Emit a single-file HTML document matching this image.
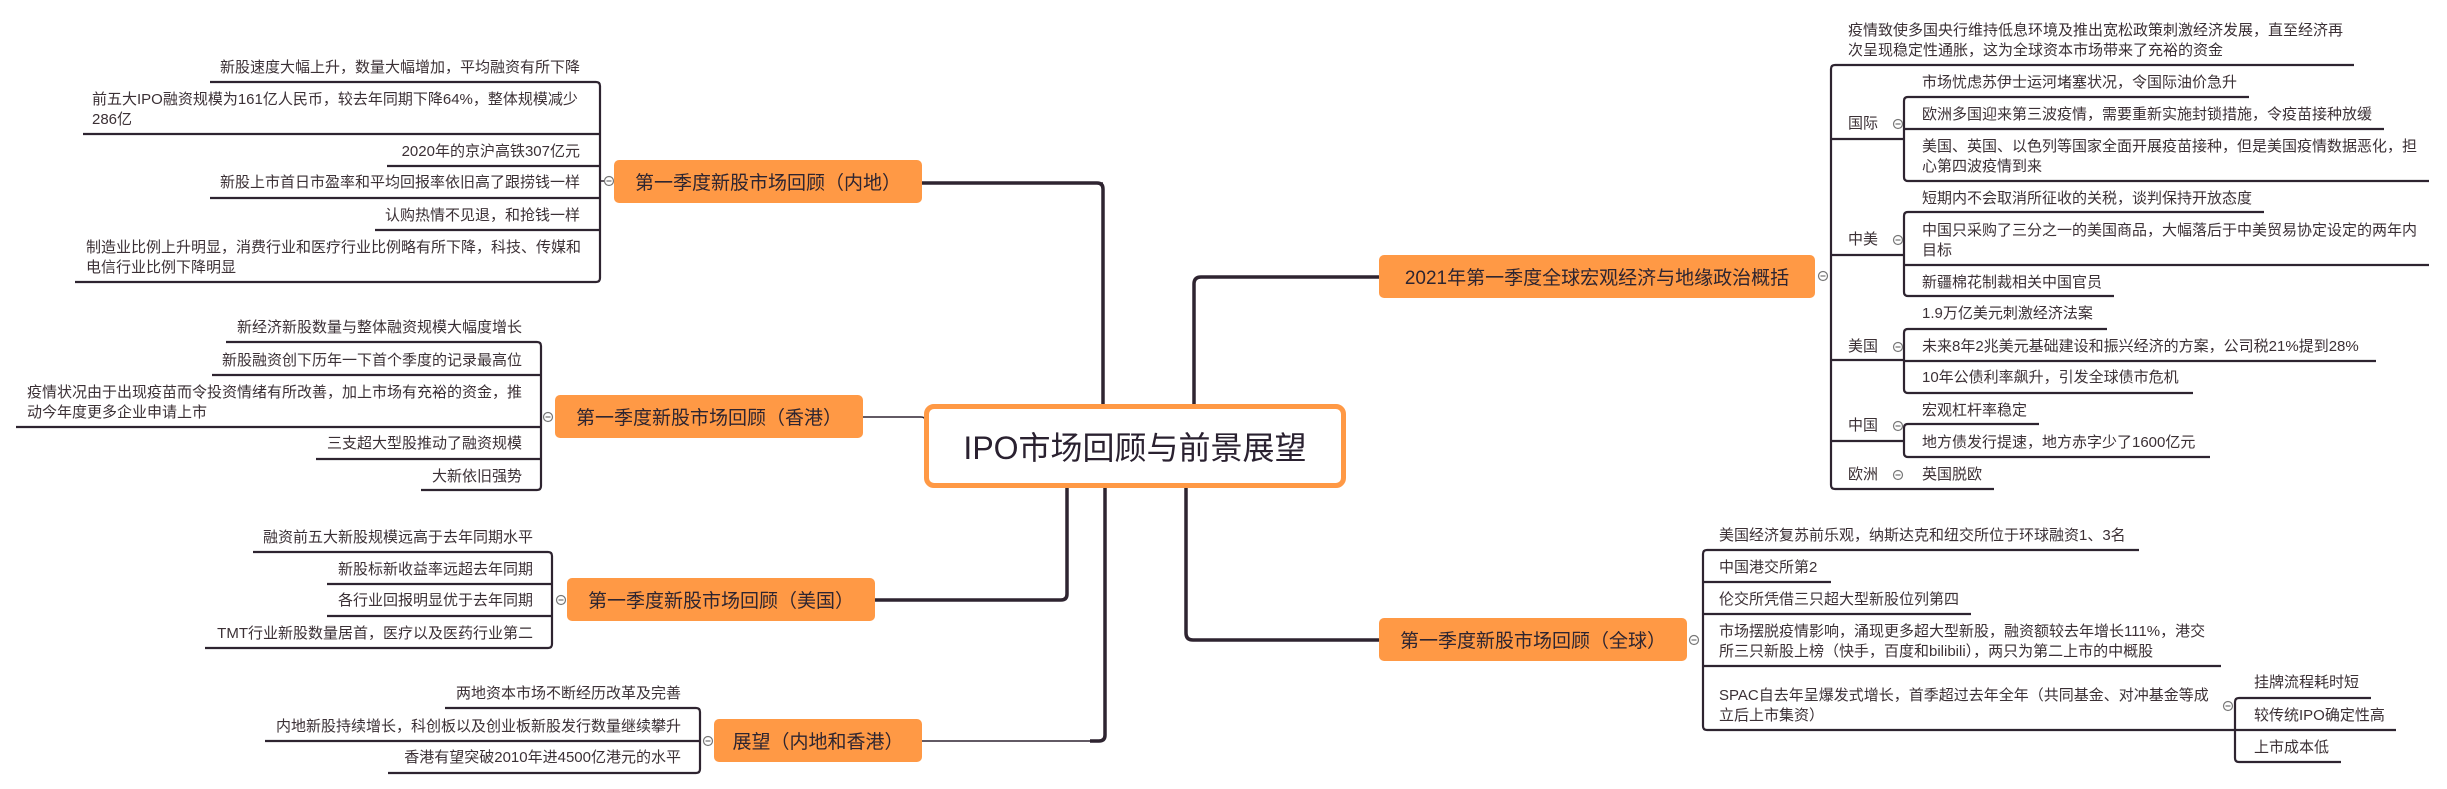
<!DOCTYPE html>
<html><head><meta charset="utf-8"><style>
html,body{margin:0;padding:0;background:#fff;}
body{width:2447px;height:789px;position:relative;overflow:hidden;font-family:"Liberation Sans","Noto Sans CJK SC",sans-serif;color:#3b3035;}
.t{position:absolute;font-size:15px;line-height:20px;white-space:nowrap;}
.r{text-align:right;}
.n{position:absolute;background:#ff9945;border-radius:5px;font-size:19px;color:#2e2530;display:flex;align-items:center;justify-content:center;white-space:nowrap;}
svg{position:absolute;left:0;top:0;}
</style></head><body>
<svg width="2447" height="789" viewBox="0 0 2447 789">
<g fill="none" stroke="#2e2430" stroke-width="2.2">
<path d="M1103 404 V189 q0-6 -6-6 H922" stroke-width="3.5"/>
<path d="M1103 183 H922" stroke-width="1.5"/>
<path d="M925 420 q0-3 -4-3 H863" stroke-width="1.5"/>
<path d="M1067 488 V594 q0 6 -6 6 H875" stroke-width="3.5"/>
<path d="M1105 488 V735 q0 6 -6 6 H1090" stroke-width="3.5"/>
<path d="M1099 741 H922" stroke-width="1.5"/>
<path d="M1194 404 V284 q0-7 7-7 H1379" stroke-width="3.5"/>
<path d="M1186 488 V633 q0 7 7 7 H1379" stroke-width="3.5"/>
<path d="M210 82 H596 q4 0 4 4 V278 q0 4 -4 4 H75"/>
<path d="M83 134 H600 M387 166 H600 M210 198 H600 M375 230 H600"/>
<path d="M600 181 H605" stroke-width="1.5"/>
<path d="M226 342 H537 q4 0 4 4 V486 q0 4 -4 4 H421"/>
<path d="M212 375 H541 M16 427 H541 M316 459 H541"/>
<path d="M253 552 H548 q4 0 4 4 V644 q0 4 -4 4 H205"/>
<path d="M327 584 H552 M327 616 H552"/>
<path d="M445 708 H696 q4 0 4 4 V769 q0 4 -4 4 H388"/>
<path d="M265 741 H700"/>
<path d="M2354 65 H1835 q-4 0 -4 4 V485 q0 4 4 4 H1994"/>
<path d="M1831 139 H1904 M1831 255 H1904 M1831 360 H1904 M1831 441 H1904"/>
<path d="M2249 97 H1908 q-4 0 -4 4 V177 q0 4 4 4 H2429"/>
<path d="M1904 129 H2384"/>
<path d="M2264 212 H1908 q-4 0 -4 4 V292 q0 4 4 4 H2114"/>
<path d="M1904 265 H2429"/>
<path d="M2107 329 H1908 q-4 0 -4 4 V389 q0 4 4 4 H2193"/>
<path d="M1904 361 H2376"/>
<path d="M2039 424 H1908 q-4 0 -4 4 V453 q0 4 4 4 H2210"/>
<path d="M2139 550 H1707 q-4 0 -4 4 V726 q0 4 4 4 H2396"/>
<path d="M1703 582 H1831 M1703 614 H1971 M1703 666 H2221"/>
<path d="M2371 698 H2239 q-4 0 -4 4 V758 q0 4 4 4 H2341"/>
</g>
<g fill="#fff" stroke="#777" stroke-width="1.2">
<circle cx="609" cy="181" r="4.5"/><circle cx="548" cy="417" r="4.5"/><circle cx="561" cy="600" r="4.5"/><circle cx="708" cy="741" r="4.5"/>
<circle cx="1823" cy="276" r="4.5"/><circle cx="1694" cy="640" r="4.5"/><circle cx="2228" cy="706" r="4.5"/>
<circle cx="1898" cy="124" r="4.5"/><circle cx="1898" cy="240" r="4.5"/><circle cx="1898" cy="347" r="4.5"/><circle cx="1898" cy="426" r="4.5"/><circle cx="1898" cy="475" r="4.5"/>
</g>
<g stroke="#777" stroke-width="1.2">
<path d="M606.5 181h5M545.5 417h5M558.5 600h5M705.5 741h5M1820.5 276h5M1691.5 640h5M2225.5 706h5M1895.5 124h5M1895.5 240h5M1895.5 347h5M1895.5 426h5M1895.5 475h5"/>
</g>
</svg>

<div style="position:absolute;left:924px;top:404px;width:412px;height:74px;border:5px solid #ff9945;border-radius:10px;background:#fff;display:flex;align-items:center;justify-content:center;font-size:32px;color:#2a2130;white-space:nowrap;">IPO市场回顾与前景展望</div>

<div class="n" style="left:614px;top:160px;width:308px;height:43px;">第一季度新股市场回顾（内地）</div>
<div class="n" style="left:555px;top:395px;width:308px;height:43px;">第一季度新股市场回顾（香港）</div>
<div class="n" style="left:567px;top:578px;width:308px;height:43px;">第一季度新股市场回顾（美国）</div>
<div class="n" style="left:714px;top:719px;width:208px;height:43px;">展望（内地和香港）</div>
<div class="n" style="left:1379px;top:255px;width:436px;height:43px;">2021年第一季度全球宏观经济与地缘政治概括</div>
<div class="n" style="left:1379px;top:618px;width:308px;height:43px;">第一季度新股市场回顾（全球）</div>

<div class="t r" style="right:1867px;top:58px;">新股速度大幅上升，数量大幅增加，平均融资有所下降</div>
<div class="t" style="left:92px;top:90px;">前五大IPO融资规模为161亿人民币，较去年同期下降64%，整体规模减少<br>286亿</div>
<div class="t r" style="right:1867px;top:142px;">2020年的京沪高铁307亿元</div>
<div class="t r" style="right:1867px;top:173px;">新股上市首日市盈率和平均回报率依旧高了跟捞钱一样</div>
<div class="t r" style="right:1867px;top:206px;">认购热情不见退，和抢钱一样</div>
<div class="t" style="left:86px;top:238px;">制造业比例上升明显，消费行业和医疗行业比例略有所下降，科技、传媒和<br>电信行业比例下降明显</div>
<div class="t r" style="right:1925px;top:318px;">新经济新股数量与整体融资规模大幅度增长</div>
<div class="t r" style="right:1925px;top:351px;">新股融资创下历年一下首个季度的记录最高位</div>
<div class="t" style="left:27px;top:383px;">疫情状况由于出现疫苗而令投资情绪有所改善，加上市场有充裕的资金，推<br>动今年度更多企业申请上市</div>
<div class="t r" style="right:1925px;top:434px;">三支超大型股推动了融资规模</div>
<div class="t r" style="right:1925px;top:467px;">大新依旧强势</div>
<div class="t r" style="right:1914px;top:528px;">融资前五大新股规模远高于去年同期水平</div>
<div class="t r" style="right:1914px;top:560px;">新股标新收益率远超去年同期</div>
<div class="t r" style="right:1914px;top:591px;">各行业回报明显优于去年同期</div>
<div class="t r" style="right:1914px;top:624px;">TMT行业新股数量居首，医疗以及医药行业第二</div>
<div class="t r" style="right:1766px;top:684px;">两地资本市场不断经历改革及完善</div>
<div class="t r" style="right:1766px;top:717px;">内地新股持续增长，科创板以及创业板新股发行数量继续攀升</div>
<div class="t r" style="right:1766px;top:748px;">香港有望突破2010年进4500亿港元的水平</div>

<div class="t" style="left:1848px;top:21px;">疫情致使多国央行维持低息环境及推出宽松政策刺激经济发展，直至经济再<br>次呈现稳定性通胀，这为全球资本市场带来了充裕的资金</div>
<div class="t" style="left:1848px;top:114px;">国际</div>
<div class="t" style="left:1848px;top:230px;">中美</div>
<div class="t" style="left:1848px;top:337px;">美国</div>
<div class="t" style="left:1848px;top:416px;">中国</div>
<div class="t" style="left:1848px;top:465px;">欧洲</div>
<div class="t" style="left:1922px;top:73px;">市场忧虑苏伊士运河堵塞状况，令国际油价急升</div>
<div class="t" style="left:1922px;top:105px;">欧洲多国迎来第三波疫情，需要重新实施封锁措施，令疫苗接种放缓</div>
<div class="t" style="left:1922px;top:137px;">美国、英国、以色列等国家全面开展疫苗接种，但是美国疫情数据恶化，担<br>心第四波疫情到来</div>
<div class="t" style="left:1922px;top:189px;">短期内不会取消所征收的关税，谈判保持开放态度</div>
<div class="t" style="left:1922px;top:221px;">中国只采购了三分之一的美国商品，大幅落后于中美贸易协定设定的两年内<br>目标</div>
<div class="t" style="left:1922px;top:273px;">新疆棉花制裁相关中国官员</div>
<div class="t" style="left:1922px;top:304px;">1.9万亿美元刺激经济法案</div>
<div class="t" style="left:1922px;top:337px;">未来8年2兆美元基础建设和振兴经济的方案，公司税21%提到28%</div>
<div class="t" style="left:1922px;top:368px;">10年公债利率飙升，引发全球债市危机</div>
<div class="t" style="left:1922px;top:401px;">宏观杠杆率稳定</div>
<div class="t" style="left:1922px;top:433px;">地方债发行提速，地方赤字少了1600亿元</div>
<div class="t" style="left:1922px;top:465px;">英国脱欧</div>

<div class="t" style="left:1719px;top:526px;">美国经济复苏前乐观，纳斯达克和纽交所位于环球融资1、3名</div>
<div class="t" style="left:1719px;top:558px;">中国港交所第2</div>
<div class="t" style="left:1719px;top:590px;">伦交所凭借三只超大型新股位列第四</div>
<div class="t" style="left:1719px;top:622px;">市场摆脱疫情影响，涌现更多超大型新股，融资额较去年增长111%，港交<br>所三只新股上榜（快手，百度和bilibili），两只为第二上市的中概股</div>
<div class="t" style="left:1719px;top:686px;">SPAC自去年呈爆发式增长，首季超过去年全年（共同基金、对冲基金等成<br>立后上市集资）</div>
<div class="t" style="left:2254px;top:673px;">挂牌流程耗时短</div>
<div class="t" style="left:2254px;top:706px;">较传统IPO确定性高</div>
<div class="t" style="left:2254px;top:738px;">上市成本低</div>
</body></html>
